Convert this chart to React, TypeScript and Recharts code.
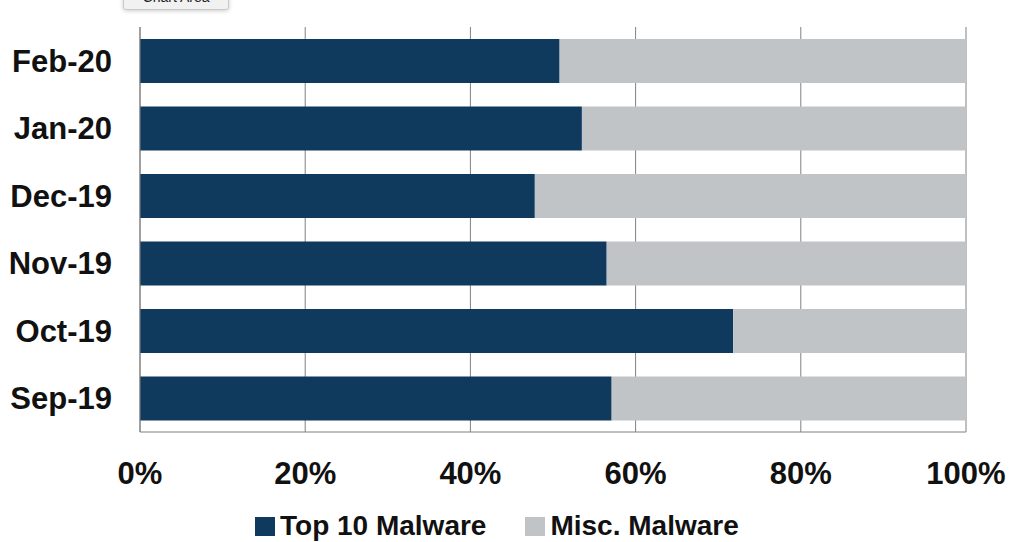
import { BarChart, Bar, XAxis, YAxis, CartesianGrid, Legend } from 'recharts';

// months listed oldest first; the y axis is reversed so Feb-20 sits on top
const months = ['Sep-19', 'Oct-19', 'Nov-19', 'Dec-19', 'Jan-20', 'Feb-20'];
const top10Share = [57.1, 71.8, 56.5, 47.8, 53.5, 50.8];
const miscShare = [42.9, 28.2, 43.5, 52.2, 46.5, 49.2];
const xTicks = [0, 20, 40, 60, 80, 100];
const seriesOrder = ['top10', 'misc'];

const chartData = months.map((month, i) => ({
    month,
    top10: top10Share[i],
    misc: miscShare[i],
}));

const NAVY = '#0f3a5e';
const GREY = '#c1c4c6';
const FONT = '"Liberation Sans", Arial, sans-serif';

const renderLegend = ({ payload }: any) => {
    // keep the series order rather than the alphabetical default
    const items = [...(payload || [])].sort(
        (a: any, b: any) => seriesOrder.indexOf(a.dataKey) - seriesOrder.indexOf(b.dataKey)
    );
    return (
        <div style={{ display: 'flex', alignItems: 'center', paddingLeft: 255, fontFamily: FONT }}>
            {items.map((entry: any, i: number) => (
                <div key={entry.value} style={{ display: 'flex', alignItems: 'center', marginRight: i === 0 ? 39 : 0 }}>
                    <span style={{ width: 20, height: 19, background: entry.color, display: 'inline-block', marginRight: 5 }} />
                    <span style={{ fontSize: 28, fontWeight: 'bold', color: '#111' }}>{entry.value}</span>
                </div>
            ))}
        </div>
    );
};

export default function App() {
    return (
        <div style={{ position: 'relative', width: 1013, height: 542, overflow: 'hidden', background: '#fff' }}>
            <style>{`body { margin: 0; }`}</style>
            <BarChart
                width={1013}
                height={542}
                data={chartData}
                layout="vertical"
                margin={{ top: 27, right: 47, bottom: 50, left: 0 }}
                barSize={44}
            >
                <CartesianGrid horizontal={false} stroke="#808080" />
                <XAxis
                    type="number"
                    domain={[0, 100]}
                    ticks={xTicks}
                    tickFormatter={(v) => `${v}%`}
                    height={60}
                    axisLine={{ stroke: '#808080' }}
                    tickLine={false}
                    tickMargin={24}
                    tick={{ fill: '#111', fontSize: 31, fontWeight: 'bold', fontFamily: FONT }}
                />
                <YAxis
                    type="category"
                    dataKey="month"
                    reversed
                    width={140}
                    axisLine={{ stroke: '#808080' }}
                    tickLine={false}
                    tickMargin={22}
                    tick={{ fill: '#111', fontSize: 31, fontWeight: 'bold', fontFamily: FONT }}
                />
                <Legend
                    layout="horizontal"
                    verticalAlign="middle"
                    align="center"
                    content={renderLegend}
                    wrapperStyle={{ top: 510, left: 0, width: 1013 }}
                />
                <Bar dataKey="top10" name="Top 10 Malware" stackId="a" fill={NAVY} isAnimationActive={false} />
                <Bar dataKey="misc" name="Misc. Malware" stackId="a" fill={GREY} isAnimationActive={false} />
            </BarChart>
            <div
                style={{
                    position: 'absolute',
                    left: 123,
                    top: -15,
                    width: 104,
                    height: 23,
                    background: '#f1f1f1',
                    border: '1px solid #c8c8c8',
                    borderRadius: 3,
                    boxShadow: '0 1px 4px rgba(0,0,0,0.2)',
                    fontFamily: FONT,
                    fontSize: 14,
                    lineHeight: '23px',
                    textAlign: 'center',
                    color: '#222',
                }}
            >
                Chart Area
            </div>
        </div>
    );
}
